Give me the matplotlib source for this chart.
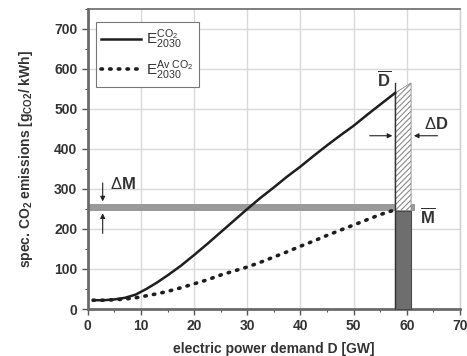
import matplotlib
matplotlib.use('Agg')
from matplotlib import pyplot as plt
from matplotlib.ticker import MultipleLocator

plt.rcParams['font.family'] = ['Liberation Sans', 'DejaVu Sans']
plt.rcParams['mathtext.fontset'] = 'custom'
plt.rcParams['mathtext.rm'] = 'Liberation Sans'
plt.rcParams['mathtext.bf'] = 'Liberation Sans:bold'
plt.rcParams['mathtext.it'] = 'Liberation Sans:italic'
plt.rcParams['hatch.color'] = '#8a8a8a'
plt.rcParams['hatch.linewidth'] = 0.8

# demand [GW] and specific emissions [g/kWh]
demand = [1, 3, 5, 7, 9, 11, 13, 15, 17.5, 20, 22.5, 25, 27.5, 30, 32.5, 35,
          37.5, 40, 42.5, 45, 47.5, 50, 52.5, 55, 57.8]
e_co2 = [22, 22, 24, 28, 36, 50, 66, 84, 108, 135, 163, 192, 221, 250, 278, 304,
         331, 356, 383, 409, 434, 458, 485, 511, 540]
e_av_co2 = [22, 22, 23, 25, 28, 33, 38, 44, 53, 63, 73, 85, 95, 105, 117, 130,
            143, 157, 170, 184, 197, 210, 223, 236, 248]

d_bar = 57.8      # mean demand
d_delta = 3.0     # demand range
m_bar = 254       # mean emissions
m_delta = 8       # emission band half width
hatch_top = [540, 565]

txt = '#333333'

fig = plt.figure(figsize=(4.67, 3.56), dpi=100)
ax = fig.add_axes([0.188, 0.132, 0.797, 0.843])

ax.grid(True, which='major', color='#d9d9d9', lw=1.0, zorder=0)

# band of mean emissions
ax.fill_between([0, d_bar + d_delta + 0.7], m_bar - m_delta, m_bar + m_delta,
                color='#9a9a9a', lw=0, zorder=2)

# dark bar and hatched region
ax.fill_between([d_bar, d_bar + d_delta], 0, m_bar - m_delta,
                facecolor='#6e6e6e', edgecolor='#4a4a4a', lw=0.8, zorder=3)
ax.fill_between([d_bar, d_bar + d_delta], m_bar - m_delta, hatch_top,
                facecolor='white', edgecolor='#8a8a8a', hatch='//////', lw=0.6, zorder=3)
ax.plot([d_bar, d_bar], [0, hatch_top[1]], color='#333333', lw=1.0, zorder=4)

ax.plot(demand, e_co2, color='#1e1e1e', lw=1.8, zorder=5,
        label=r'$\mathregular{E_{2030}^{CO_2}}$')
ax.plot(demand, e_av_co2, color='#1e1e1e', lw=2.6, zorder=5,
        linestyle=(0, (0.4, 2.0)), dash_capstyle='round',
        label=r'$\mathregular{E_{2030}^{Av\ CO_2}}$')

# annotations
arrow = dict(arrowstyle='-|>', color='#222222', lw=0.8, mutation_scale=7)
ax.annotate('', xy=(2.8, m_bar + m_delta), xytext=(2.8, 322), arrowprops=arrow)
ax.annotate('', xy=(2.8, m_bar - m_delta), xytext=(2.8, 182), arrowprops=arrow)
ax.text(4.2, 312, r'$\Delta$M', fontsize=12, fontweight='bold', color=txt,
        ha='left', va='center')
ax.annotate('', xy=(d_bar, 433), xytext=(52.5, 433), arrowprops=arrow)
ax.annotate('', xy=(d_bar + d_delta, 433), xytext=(66.3, 433), arrowprops=arrow)
ax.text(63.2, 463, r'$\Delta$D', fontsize=12, fontweight='bold', color=txt,
        ha='left', va='center')
ax.text(55.8, 575, r'$\overline{\mathbf{D}}$', fontsize=12, color=txt,
        ha='center', va='center')
ax.text(64.0, 232, r'$\overline{\mathbf{M}}$', fontsize=12, color=txt,
        ha='center', va='center')

ax.set_xlim(0, 70)
ax.set_ylim(0, 750)
ax.xaxis.set_major_locator(MultipleLocator(10))
ax.xaxis.set_minor_locator(MultipleLocator(5))
ax.yaxis.set_major_locator(MultipleLocator(100))
ax.yaxis.set_minor_locator(MultipleLocator(50))
ax.set_yticks(range(0, 701, 100))
ax.tick_params(which='major', direction='out', length=4, width=1.0,
               color='#555555', labelsize=10, labelcolor=txt)
ax.tick_params(which='minor', direction='out', length=2.5, width=0.8,
               color='#555555')
for lab in ax.get_xticklabels() + ax.get_yticklabels():
    lab.set_fontweight('bold')

for side in ['left', 'bottom']:
    ax.spines[side].set_color('#6a6a6a')
    ax.spines[side].set_linewidth(2.0)
ax.spines['top'].set_color('#6a6a6a')
ax.spines['top'].set_linewidth(1.2)
ax.spines['right'].set_color('#cfcfcf')
ax.spines['right'].set_linewidth(1.0)

ax.set_xlabel('electric power demand D [GW]', fontsize=10, fontweight='bold',
              color=txt, labelpad=6)
ax.set_ylabel(r'spec. CO$_\mathbf{2}$ emissions [g$_\mathbf{CO2}$/ kWh]',
              fontsize=10, fontweight='bold', color=txt, labelpad=14)

leg = ax.legend(loc='upper left', bbox_to_anchor=(0.022, 0.955), fontsize=11,
                fancybox=False, framealpha=1, edgecolor='#777777',
                borderaxespad=0, handlelength=2.6, borderpad=0.35,
                labelspacing=0.45, handletextpad=0.3)
leg.get_frame().set_linewidth(0.8)
for t in leg.get_texts():
    t.set_color(txt)

fig.savefig('out.png', dpi=100)
